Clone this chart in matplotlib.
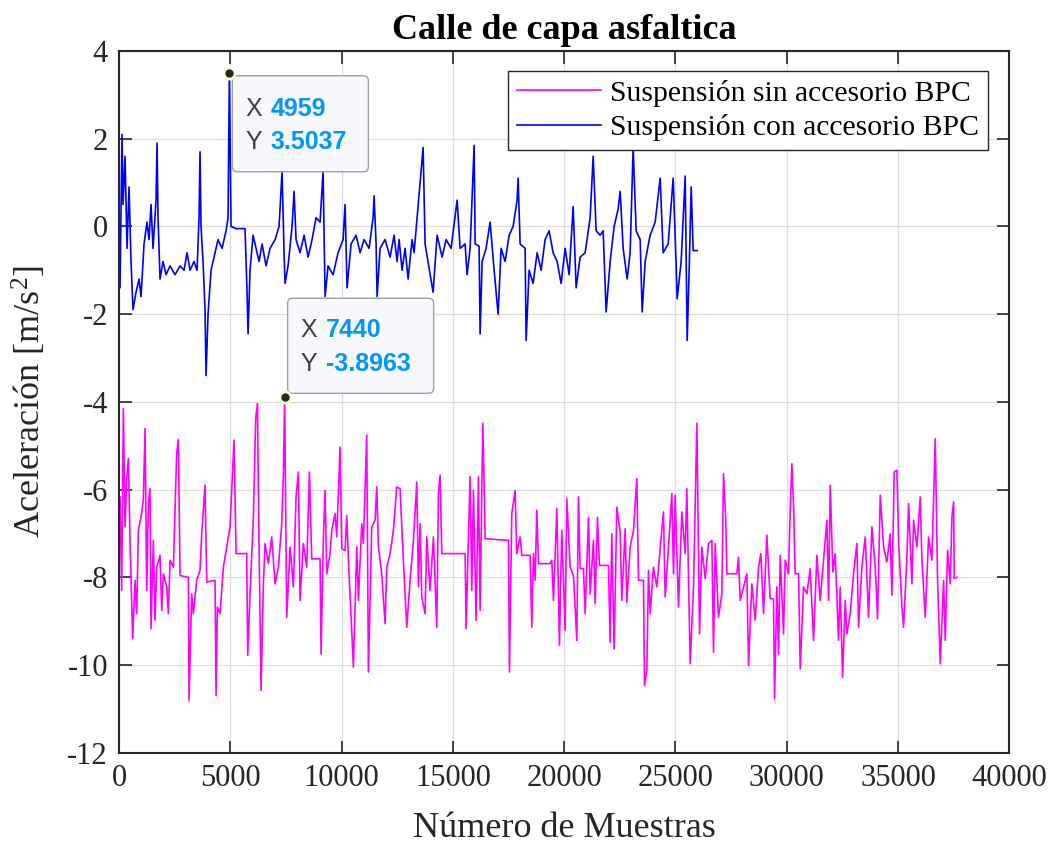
import numpy as np
import matplotlib
matplotlib.use("Agg")
import matplotlib.pyplot as plt
import matplotlib.transforms as mtransforms
from matplotlib.patches import FancyBboxPatch

# Suspensión con accesorio BPC (azul)
blue_x = [0, 45, 135, 180, 270, 360, 449, 539, 629, 764, 899, 989, 1124, 1258, 1348,
          1438, 1528, 1663, 1708, 1753, 1843, 1977, 2112, 2292, 2517, 2741, 2921, 3056,
          3191, 3371, 3505, 3595, 3640, 3685, 3775, 3865, 3910, 4000, 4134, 4314, 4449,
          4629, 4809, 4898, 4959, 5033, 5258, 5662, 5752, 5797, 5887, 6022, 6157, 6292,
          6426, 6606, 6786, 7011, 7190, 7325, 7415, 7460, 7595, 7775, 7865, 7954, 8134,
          8314, 8494, 8673, 8853, 9033, 9168, 9258, 9392, 9617, 9842, 10067, 10156, 10246,
          10426, 10651, 10831, 11010, 11235, 11415, 11460, 11550, 11595, 11729, 11954,
          12179, 12359, 12493, 12583, 12718, 12853, 12988, 13167, 13257, 13662, 13752,
          14111, 14291, 14516, 14695, 14920, 15190, 15325, 15549, 15639, 15774, 15954,
          15999, 16178, 16223, 16313, 16493, 16673, 16853, 17032, 17167, 17347, 17527,
          17706, 17886, 17931, 18021, 18246, 18291, 18425, 18605, 18785, 18965, 19144,
          19324, 19504, 19684, 19863, 20043, 20223, 20403, 20538, 20717, 20942, 21167,
          21302, 21436, 21616, 21751, 21886, 22066, 22245, 22425, 22515, 22650, 22830,
          22964, 23099, 23234, 23414, 23504, 23638, 23863, 24088, 24313, 24447, 24672,
          24897, 25032, 25077, 25256, 25436, 25526, 25616, 25706, 25796, 25975]
blue_y = [0.0, -1.4, 2.1, 0.5, 1.6, -0.5, 0.9, -0.8, -1.9, -1.5, -1.2, -1.6, -0.4, 0.1, -0.3,
          0.5, -0.5, 0.6, 1.9, 0.2, -1.2, -0.8, -1.1, -0.9, -1.1, -0.9, -1.0, -0.6,
          -1.0, -0.8, -1.0, 0.2, 1.7, 0.0, -0.8, -1.9, -3.4, -2.0, -1.0, -0.6, -0.3,
          -0.5, -0.1, 0.2, 3.5037, 0.0, -0.05, -0.05, -1.5, -2.45, -1.0, -0.2, -0.5, -0.8,
          -0.4, -0.9, -0.5, -0.3, 0.0, 1.25, -0.6, -1.3, -0.9, 0.0, 0.8, -0.3, -0.6,
          -0.2, -0.7, -0.3, 0.2, 0.1, 1.25, -1.6, -0.9, -1.1, -0.6, -0.3, 0.5, -1.4,
          -0.4, -0.2, -0.6, -0.3, -0.5, 0.2, 0.7, -0.4, -1.6, -0.5, -0.3,
          -0.7, -0.2, -0.8, -0.3, -1.0, -0.5, -1.2, -0.3, -0.6, 1.8, -0.4,
          -1.5, -0.2, -0.7, -0.3, -0.5, 0.6, -0.5, -0.4, -1.1, -0.5, 1.85,
          -0.4, -0.45, -2.45, -0.8, -0.5, 0.1, -1.0, -2.0, -0.5, -0.8, -0.2,
          0.0, 0.6, 1.1, -0.4, -0.5, -2.6, -1.0, -1.3, -0.6, -1.0, -0.3,
          -0.1, -0.6, -0.8, -1.3, -0.5, -1.1, 0.45, -1.4, -0.7, -0.6, 0.2,
          1.6, -0.1, -0.2, -0.1, -1.95, -0.8, 0.0, 0.4, 0.8, -0.5, -1.2,
          -0.6, 1.8, -0.1, -0.3, -1.95, -0.8, -0.2, 0.1, 1.1, -0.6, -0.4,
          1.1, -0.9, -1.65, -0.8, 1.15, -2.6, -1.0, 0.9, -0.55, -0.55]

# Suspensión sin accesorio BPC (magenta)
mag_x = [45, 119, 195, 269, 344, 420, 494, 614, 719, 794, 868, 1018, 1093, 1169, 1243,
         1318, 1393, 1438, 1543, 1617, 1693, 1842, 1918, 1992, 2142, 2217, 2292, 2442,
         2591, 2667, 2741, 3115, 3146, 3265, 3340, 3490, 3640, 3715, 3864, 3940, 4314,
         4359, 4419, 4539, 4689, 4838, 4988, 5063, 5168, 5258, 5737, 5782, 5886, 6037,
         6141, 6217, 6291, 6381, 6486, 6561, 6711, 6860, 7010, 7161, 7310, 7385, 7440,
         7535, 7685, 7834, 7954, 8059, 8133, 8283, 8434, 8553, 8658, 9033, 9077, 9183,
         9257, 9332, 9482, 9557, 9707, 9782, 9932, 10007, 10156, 10231, 10306, 10531,
         10681, 10756, 10905, 10980, 11129, 11205, 11354, 11504, 11579, 11654, 11804,
         11954, 12029, 12179, 12328, 12478,
         12628, 12778, 12928, 13077, 13227, 13377, 13452, 13527, 13602, 13752, 13826,
         13976, 14126, 14276, 14351, 14426, 14501, 15549, 15594, 15699, 15774, 15849,
         15924, 16043, 16148, 16223, 16343, 16403, 16448, 17497, 17541, 17646, 17796,
         17871, 18021, 18096, 18470, 18545, 18620, 18695, 18770, 18845, 19369, 19444,
         19519, 19594, 19669, 19788, 19893, 19968, 20043, 20118, 20268, 20418, 20567,
         20642, 20717, 20867, 20942, 21092, 21167, 21316, 21391, 21496, 21586, 21990,
         22065, 22140, 22245, 22365, 22515, 22590, 22740, 22814, 22964, 23114, 23264,
         23339, 23563, 23608, 23713, 23788, 23863, 24013, 24163, 24312, 24462, 24537,
         24687, 24837, 24912, 24987, 25136, 25286, 25436, 25511,
         25661, 25811, 25961, 26080, 26185, 26335, 26485, 26635, 26710, 26785, 26934,
         27084, 27159, 27264, 27309, 27758, 27833, 27908, 28208, 28283, 28432, 28582,
         28732, 28837, 28957, 29106, 29256, 29406, 29451, 29556, 29631, 29706, 29855,
         29930, 30080, 30155, 30230, 30305, 30380, 30530, 30605, 30754, 30904, 31054,
         31204, 31353, 31503, 31653, 31803, 31878, 31953, 32072, 32177, 32327, 32402,
         32507, 32627, 32702, 32851, 33001, 33151, 33226, 33376, 33526, 33675, 33825,
         33975, 34080, 34200, 34349, 34499, 34649, 34724, 34829, 34949, 35024, 35174,
         35248, 35398, 35473, 35623, 35698, 35848, 35998, 36072, 36222, 36372, 36522,
         36672, 36776, 36896, 37046, 37121, 37226, 37346, 37421, 37496, 37526, 37646]
mag_y = [-6.17, -8.30, -4.15, -6.85, -5.79, -5.29, -7.16, -9.40, -8.07, -8.83, -6.93, -6.55,
         -6.24, -4.61, -8.30, -6.32, -5.98, -9.17, -7.16, -8.98, -7.77, -7.50, -8.76,
         -7.92, -8.22, -8.83, -7.61, -7.77, -5.18, -4.86, -7.96, -8.00, -10.81, -8.38,
         -8.83, -8.07, -7.84, -7.01, -5.90, -8.11, -8.07, -10.70, -8.68, -8.83, -7.77,
         -7.31, -6.85, -6.02, -4.87, -7.46, -7.46, -9.78, -8.38, -6.63, -4.38, -4.04,
         -7.27, -10.58, -8.15, -7.23, -7.69, -7.08, -8.15, -7.77, -6.78, -5.67, -3.8963,
         -8.91, -7.31, -8.22, -6.17, -5.60, -8.53, -7.23, -7.77, -5.60, -7.58, -7.58,
         -9.75, -7.08, -6.02, -7.92, -7.46, -6.93, -6.55, -7.08, -5.03, -7.35, -7.39,
         -6.59, -7.61, -10.05, -7.31, -8.53, -6.78, -7.23, -4.76, -10.16, -6.85, -6.70,
         -5.94, -7.31, -7.92, -9.06, -7.77, -7.46, -6.93, -5.94,
         -5.98, -7.65, -9.14, -8.07, -7.16, -5.83, -8.22, -6.78, -8.45, -8.83, -7.08,
         -8.30, -7.08, -9.14, -6.09, -5.67, -7.46, -7.46, -9.17, -7.08, -5.71, -8.30,
         -6.02, -8.98, -5.71, -8.76, -4.49, -5.86, -7.12, -7.16, -10.16, -6.55, -6.02,
         -7.46, -7.08, -7.50, -7.50, -9.14, -7.46, -8.07, -6.47, -7.69, -7.69, -7.61,
         -8.53, -7.50, -6.43, -9.55, -6.93, -8.07, -9.21, -6.21, -7.77, -7.96, -9.44,
         -6.17, -7.80, -7.80, -8.83, -6.63, -8.38, -7.16, -8.60, -6.63, -7.73, -7.73,
         -9.48, -7.01, -9.63, -6.40, -6.97, -8.53, -6.89, -8.57, -7.31, -6.93, -5.75,
         -8.07, -8.07, -10.47, -10.13, -7.84, -8.83, -7.77, -8.22, -7.35, -6.51, -8.45,
         -7.31, -6.09, -7.92, -6.13, -8.68, -6.51, -7.46, -5.98,
         -9.97, -8.22, -4.49, -9.29, -7.31, -8.03, -7.23, -7.16, -9.71, -7.23, -8.91,
         -8.38, -5.64, -6.74, -7.92, -7.92, -7.54, -8.53, -7.92, -10.01, -8.15, -8.98,
         -7.77, -7.46, -8.83, -7.04, -8.49, -8.49, -10.77, -8.22, -9.75, -7.50, -9.29,
         -7.61, -7.92, -6.47, -5.41, -6.36, -7.92, -7.92, -10.09, -8.22, -8.38, -7.80,
         -9.44, -7.50, -8.53, -7.61, -6.70, -8.53, -5.90, -7.88, -7.46, -9.44, -8.22,
         -10.28, -8.53, -9.29, -8.83, -7.92, -7.23, -9.14, -7.77, -7.08, -8.91, -6.85,
         -7.77, -8.95, -6.13, -7.31, -7.65, -7.01, -8.41, -5.60, -5.56, -7.16, -8.68,
         -9.14, -7.54, -6.32, -8.15, -6.70, -7.31, -6.17, -7.61, -8.91, -7.08, -7.61,
         -4.84, -8.07, -9.97, -8.07, -9.44, -7.39, -8.15, -6.63, -6.28, -8.03, -8.00]

labels = ["Suspensión sin accesorio BPC", "Suspensión con accesorio BPC"]
tips = [(4959, 3.5037), (7440, -3.8963)]

plt.rcParams["font.family"] = ["Liberation Serif", "DejaVu Serif"]
plt.rcParams["mathtext.fontset"] = "custom"
plt.rcParams["mathtext.rm"] = "Liberation Serif"
plt.rcParams["axes.unicode_minus"] = False

fig = plt.figure(figsize=(10.57, 8.46), dpi=100)
ax = fig.add_axes([0.1126, 0.1103, 0.9549 - 0.1126, 0.9397 - 0.1103])

ax.plot(mag_x, mag_y, color="#FF00FF", lw=1.2, label=labels[0])
ax.plot(blue_x, blue_y, color="#0000FF", lw=1.2, label=labels[1])

ax.set_xlim(0, 40000)
ax.set_ylim(-12, 4)
ax.set_xticks(np.arange(0, 40001, 5000))
ax.set_yticks(np.arange(-12, 5, 2))
ax.grid(True, color="#DCDCDC", lw=0.9)
ax.set_axisbelow(True)
ax.tick_params(direction="in", length=9, width=1.2, top=True, right=True,
               labelsize=22, colors="#262626", pad=8)
for s in ax.spines.values():
    s.set_linewidth(1.5)
    s.set_color("#262626")

ax.set_title("Calle de capa asfaltica", fontsize=26, fontweight="bold", pad=9)
ax.set_xlabel("Número de Muestras", fontsize=26, color="#262626", labelpad=14)
ax.set_ylabel(r"Aceleración [m/s$\mathregular{^2}$]", fontsize=26, color="#262626",
              labelpad=13)

leg = ax.legend(loc="upper right", bbox_to_anchor=(0.976, 0.972), fontsize=21.3,
                fancybox=False, framealpha=1, edgecolor="#262626",
                handlelength=2.85, borderpad=0.3, labelspacing=0.25, handletextpad=0.3,
                borderaxespad=0)
leg.get_frame().set_linewidth(1.0)

# datatips
fig.canvas.draw()
boxes = [(3, -99, 136, 96), (3, 4, 146, 95)]
rows = [(-36, -69), (67, 33)]
for (tx, ty), (bx, by, bw, bh), (r1, r2) in zip(tips, boxes, rows):
    base = mtransforms.ScaledTranslation(tx, ty, ax.transData)
    tr = mtransforms.Affine2D() + base
    box = FancyBboxPatch((bx, by), bw, bh, boxstyle="round,pad=0,rounding_size=5",
                         fc="#F8F8FE", ec="#A0A0A0", lw=1.0, transform=tr,
                         clip_on=False, zorder=5)
    ax.add_patch(box)
    for lab, val, ry in [("X", f"{tx:g}", r1), ("Y", f"{ty:.4f}", r2)]:
        ax.text(16, ry, lab, transform=tr, fontsize=18, family="Liberation Sans",
                color="#404040", va="center", ha="left", zorder=6)
        ax.text(41, ry, val, transform=tr, fontsize=18, family="Liberation Sans",
                fontweight="bold", color="#0096FF", va="center", ha="left", zorder=6)
    ax.plot([tx], [ty], "o", ms=8, mfc="#262626", mec="#FFFFD0", mew=2, zorder=7,
            clip_on=False)

fig.savefig("out.png", dpi=100)
